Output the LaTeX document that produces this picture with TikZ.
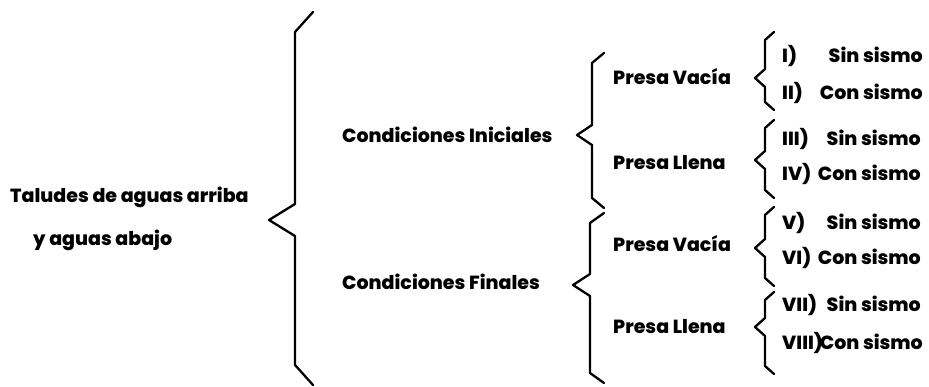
\documentclass[tikz,border=0pt]{standalone}
\usepackage{fontspec}
\setmainfont{Poppins}[BoldFont={Poppins ExtraBold}]
\begin{document}
\begin{tikzpicture}[x=1pt,y=-1pt,
  txt/.style={anchor=mid west,inner sep=0pt,font=\fontsize{19}{21}\selectfont\bfseries},
  leaf/.style={txt,anchor=mid east},
  bracestyle/.style={line width=2.3pt,line join=round,line cap=round}]
\useasboundingbox[fill=white] (0,0) rectangle (929,387);
% brace macro: tipx, linex, hookx, topy, tipy, bottomy, hookdy, tipdy
\newcommand{\mybrace}[8]{\draw[bracestyle] (#3,#4) -- (#2,{#4+#7}) -- (#2,{#5-#8}) -- (#1,#5) -- (#2,{#5+#8}) -- (#2,{#6-#7}) -- (#3,#6);}
% level 0
\node[txt] (t1) at (10,200) {Taludes de aguas arriba};
\node[txt] (t2) at (33,243) {y aguas abajo};
\mybrace{269}{295}{313}{12}{220}{385}{20}{16}
% level 1
\node[txt] (ci) at (342,140) {Condiciones Iniciales};
\node[txt] (cf) at (342,287) {Condiciones Finales};
\mybrace{577}{592}{604}{53}{135}{208}{10}{10}
\mybrace{573}{590}{604}{213}{285}{383}{10}{11}
% level 2
\node[txt] (pv1) at (613,82) {Presa Vacía};
\node[txt] (pl1) at (613,167) {Presa Llena};
\node[txt] (pv2) at (613,249) {Presa Vacía};
\node[txt] (pl2) at (613,331) {Presa Llena};
\mybrace{755}{765}{774}{32}{78}{110}{8}{9}
\mybrace{755}{765}{774}{120}{160}{198}{8}{9}
\mybrace{755}{765}{774}{207}{248}{286}{8}{9}
\mybrace{755}{765}{774}{292}{327}{374}{8}{9}
% level 3
\node[txt] (n1) at (782,60) {I)};
\node[leaf] (l1) at (923,60) {Sin sismo};
\node[txt] (n2) at (782,97) {II)};
\node[leaf] (l2) at (923,97) {Con sismo};
\node[txt] (n3) at (782,143) {III)};
\node[leaf] (l3) at (921,143) {Sin sismo};
\node[txt] (n4) at (782,178) {IV)};
\node[leaf] (l4) at (921,178) {Con sismo};
\node[txt] (n5) at (782,227) {V)};
\node[leaf] (l5) at (921,227) {Sin sismo};
\node[txt] (n6) at (782,262) {VI)};
\node[leaf] (l6) at (921,262) {Con sismo};
\node[txt] (n7) at (782,309) {VII)};
\node[leaf] (l7) at (921,309) {Sin sismo};
\node[txt] (n8) at (782,347) {VIII)};
\node[leaf] (l8) at (923,347) {Con sismo};
\end{tikzpicture}
\end{document}
